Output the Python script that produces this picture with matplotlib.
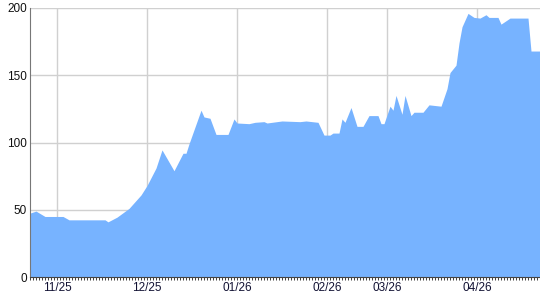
import matplotlib
matplotlib.use("Agg")
import matplotlib.pyplot as plt
import numpy as np
from matplotlib.ticker import MultipleLocator

# day index (one tick per data point) and value at each break point
day_idx = [0, 2, 5, 11, 13, 25, 26, 29, 33, 35, 37, 39, 42, 44, 48, 51, 52, 53,
           57, 58, 60, 62, 66, 68, 69, 73, 75, 78, 79, 84, 90, 92, 96, 98, 100,
           101, 103, 104, 105, 107, 109, 111, 113, 116, 117, 118, 120, 121, 122,
           124, 125, 127, 128, 131, 133, 137, 139, 140, 142, 143, 144, 146, 148,
           150, 152, 153, 156, 157, 159, 160, 166, 167, 170]
values = [47.5, 49, 45, 45, 42.5, 42.5, 41, 44.5, 51, 56, 61, 68, 81, 94.5, 79,
          92, 92, 99, 124, 119, 118, 106, 106, 117.5, 114.5, 114, 115, 115.5,
          114.5, 116, 115.5, 116, 115, 105.5, 105.5, 107, 107, 117.5, 115, 126,
          112, 112, 120, 120, 114, 114, 127, 124, 135, 121, 135, 120, 122.5,
          122.5, 128, 127, 140, 152, 157.5, 174, 186, 196, 193, 192.5, 195, 193,
          193, 188, 191, 192.5, 192.5, 168, 168]

month_idx = [9, 39, 69, 99, 119, 149]
month_labels = ["11/25", "12/25", "01/26", "02/26", "03/26", "04/26"]
y_ticks = [0, 50, 100, 150, 200]

plt.rcParams["font.family"] = ["Liberation Sans", "DejaVu Sans"]

fig = plt.figure(figsize=(5.4, 3.0), dpi=100)
ax = fig.add_axes([30 / 540, 23 / 300, 510 / 540, 269 / 300])

ax.fill_between(day_idx, values, 0, color="#77b3ff", linewidth=0, zorder=2)

ax.set_xlim(0, 170)
ax.set_ylim(0, 200)
ax.set_xticks(month_idx, labels=month_labels)
ax.xaxis.set_minor_locator(MultipleLocator(1))
ax.set_yticks(y_ticks)
ax.grid(True, which="major", color="#d0d0d0", linewidth=1, zorder=0)
ax.set_axisbelow(True)

ax.tick_params(axis="x", which="both", direction="out", length=2.3, width=0.6,
               color="#222222", labelsize=8.5, pad=1.5, labelcolor="#111133")
ax.tick_params(axis="y", length=0, labelsize=8.5, pad=2, labelcolor="#111111")

for side in ["top", "right"]:
    ax.spines[side].set_visible(False)
ax.spines["left"].set_color("#777777")
ax.spines["bottom"].set_color("#444444")

fig.savefig("out.png", dpi=100)
